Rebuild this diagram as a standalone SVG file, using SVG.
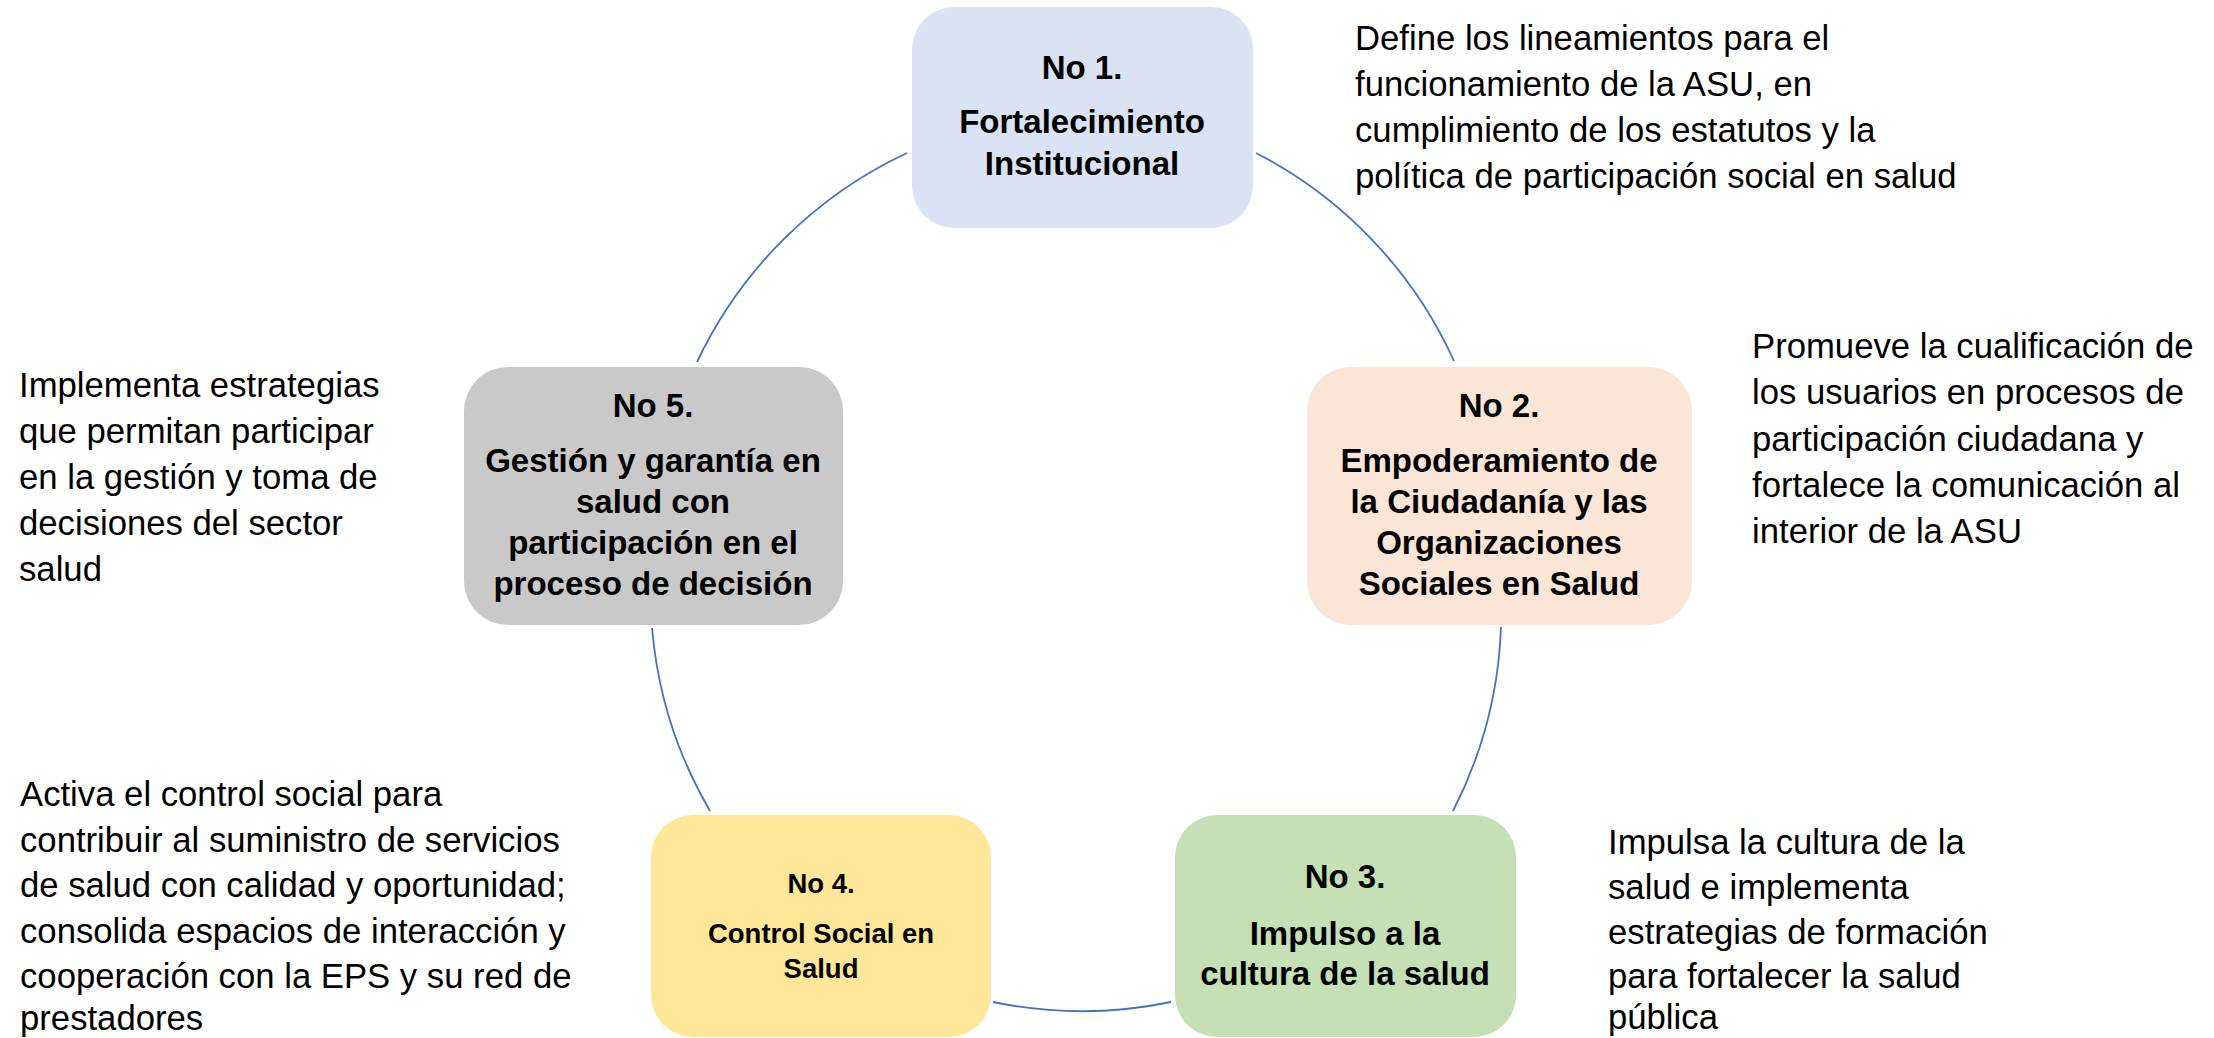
<svg xmlns="http://www.w3.org/2000/svg" width="2214" height="1038" viewBox="0 0 2214 1038">
<style>
.node text{font-family:"Liberation Sans",Arial,sans-serif;font-weight:bold;font-size:33px;fill:#000;text-anchor:middle}
.node text.sm{font-size:27.5px}
.desc{font-family:"Liberation Sans",Arial,sans-serif;font-size:34.7px;fill:#000}
.arc{fill:none;stroke:#4472C4;stroke-width:1.8}
</style>
<rect width="2214" height="1038" fill="#fff"/>
<g id="connectors">
<path class="arc" d="M907,153 A437,437 0 0 0 697,362"/>
<path class="arc" d="M1256,153 A437,437 0 0 1 1454,361"/>
<path class="arc" d="M1501,627 A437,437 0 0 1 1453,811"/>
<path class="arc" d="M1171,1002 A437,437 0 0 1 993,1002"/>
<path class="arc" d="M710,811 A437,437 0 0 1 652,628"/>
</g>
<g id="node1" class="node">
<rect x="912" y="7" width="341" height="221" rx="42" fill="#DAE3F3"/>
<text x="1082" y="79">No 1.</text>
<text x="1082" y="133">Fortalecimiento</text>
<text x="1082" y="175">Institucional</text>
</g>
<g id="node2" class="node">
<rect x="1307" y="367" width="385" height="258" rx="44" fill="#FBE5D6"/>
<text x="1499" y="417">No 2.</text>
<text x="1499" y="472">Empoderamiento de</text>
<text x="1499" y="513">la Ciudadanía y las</text>
<text x="1499" y="554">Organizaciones</text>
<text x="1499" y="595">Sociales en Salud</text>
</g>
<g id="node3" class="node">
<rect x="1175" y="815" width="341" height="222" rx="42" fill="#C5E0B4"/>
<text x="1345" y="888">No 3.</text>
<text x="1345" y="945">Impulso a la</text>
<text x="1345" y="985">cultura de la salud</text>
</g>
<g id="node4" class="node">
<rect x="651" y="815" width="340" height="222" rx="42" fill="#FFE699"/>
<text class="sm" x="821" y="893">No 4.</text>
<text class="sm" x="821" y="943">Control Social en</text>
<text class="sm" x="821" y="978">Salud</text>
</g>
<g id="node5" class="node">
<rect x="464" y="367" width="379" height="258" rx="44" fill="#C9C9C9"/>
<text x="653" y="417">No 5.</text>
<text x="653" y="472">Gestión y garantía en</text>
<text x="653" y="513">salud con</text>
<text x="653" y="554">participación en el</text>
<text x="653" y="595">proceso de decisión</text>
</g>
<g id="desc1" class="desc">
<text x="1355" y="50">Define los lineamientos para el</text>
<text x="1355" y="96">funcionamiento de la ASU, en</text>
<text x="1355" y="142">cumplimiento de los estatutos y la</text>
<text x="1355" y="188">política de participación social en salud</text>
</g>
<g id="desc2" class="desc">
<text x="1752" y="358">Promueve la cualificación de</text>
<text x="1752" y="404">los usuarios en procesos de</text>
<text x="1752" y="451">participación ciudadana y</text>
<text x="1752" y="497">fortalece la comunicación al</text>
<text x="1752" y="543">interior de la ASU</text>
</g>
<g id="desc3" class="desc">
<text x="1608" y="854">Impulsa la cultura de la</text>
<text x="1608" y="899">salud e implementa</text>
<text x="1608" y="944">estrategias de formación</text>
<text x="1608" y="988">para fortalecer la salud</text>
<text x="1608" y="1029">pública</text>
</g>
<g id="desc4" class="desc">
<text x="20" y="806">Activa el control social para</text>
<text x="20" y="852">contribuir al suministro de servicios</text>
<text x="20" y="897">de salud con calidad y oportunidad;</text>
<text x="20" y="943">consolida espacios de interacción y</text>
<text x="20" y="988">cooperación con la EPS y su red de</text>
<text x="20" y="1030">prestadores</text>
</g>
<g id="desc5" class="desc">
<text x="19" y="397">Implementa estrategias</text>
<text x="19" y="443">que permitan participar</text>
<text x="19" y="489">en la gestión y toma de</text>
<text x="19" y="535">decisiones del sector</text>
<text x="19" y="581">salud</text>
</g>
</svg>
